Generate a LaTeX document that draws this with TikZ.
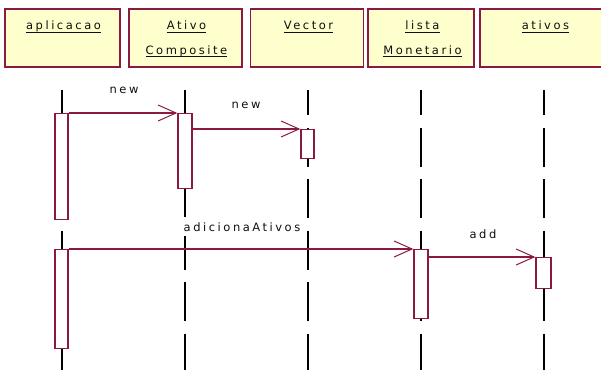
\documentclass[tikz,border=0pt]{standalone}
\usepackage{fontspec}
\setmainfont{DejaVu Sans}[LetterSpace=22]
\usetikzlibrary{arrows.meta}

\definecolor{frame}{RGB}{140,25,65}
\definecolor{headfill}{RGB}{255,255,206}
\definecolor{ink}{RGB}{15,15,15}

% underline drawn at a fixed distance below the baseline
\newcommand{\ulword}[1]{\setbox0\hbox{#1}\leavevmode\rlap{\rule[-3.4pt]{\wd0}{1.2pt}}\box0}

\tikzset{
  headbox/.style={draw=frame, line width=1.6pt, fill=headfill, inner sep=0pt, minimum height=58pt},
  headtext/.style={anchor=base, inner sep=0pt, text=ink, font=\fontsize{11.5}{13}\selectfont},
  lifeline/.style={black, line width=1.1pt, dash pattern=on 39pt off 12.5pt, dash phase=14pt},
  actbox/.style={draw=frame, line width=1.4pt, fill=white, minimum width=13pt, inner sep=0pt, anchor=north},
  msg/.style={draw=frame, line width=1.3pt, -{Straight Barb[length=18pt,width=16pt,line width=1pt]}},
  msglabel/.style={anchor=base, inner xsep=3pt, inner ysep=5pt, text=ink, font=\fontsize{11.5}{13}\selectfont},
}

\begin{document}
\begin{tikzpicture}[x=1pt, y=-1pt]
  \useasboundingbox (0,0) rectangle (601,369);
  \clip (0,0) rectangle (601,369);

  % object headers
  \node[headbox, minimum width=115pt] (hApp) at (62.5,38) {};
  \node[headbox, minimum width=113pt] (hAc)  at (185.5,38) {};
  \node[headbox, minimum width=113pt] (hVec) at (307,38) {};
  \node[headbox, minimum width=106pt] (hLm)  at (421,38) {};
  \node[headbox, minimum width=128pt] (hAt)  at (544,38) {};

  \node[headtext] (tApp)  at (63.5,30)  {\ulword{aplicacao}};
  \node[headtext] (tAc1)  at (186.5,30) {\ulword{Ativo}};
  \node[headtext] (tAc2)  at (186.5,54) {\ulword{Composite}};
  \node[headtext] (tVec)  at (308.5,30) {\ulword{Vector}};
  \node[headtext] (tLm1)  at (422.5,30) {\ulword{lista}};
  \node[headtext] (tLm2)  at (422.5,54) {\ulword{Monetario}};
  \node[headtext] (tAt)   at (545.5,30) {\ulword{ativos}};

  % lifelines
  \coordinate (topApp) at (62,90);  \coordinate (botApp) at (62,372);
  \coordinate (topAc)  at (185,90); \coordinate (botAc)  at (185,372);
  \coordinate (topVec) at (308,90); \coordinate (botVec) at (308,372);
  \coordinate (topLm)  at (421,90); \coordinate (botLm)  at (421,372);
  \coordinate (topAt)  at (544,90); \coordinate (botAt)  at (544,372);
  \draw[lifeline] (topApp) -- (botApp);
  \draw[lifeline] (topAc)  -- (botAc);
  \draw[lifeline] (topVec) -- (botVec);
  \draw[lifeline] (topLm)  -- (botLm);
  \draw[lifeline] (topAt)  -- (botAt);

  % activations
  \node[actbox, minimum height=106pt] (aApp1) at (61.5,113) {};
  \node[actbox, minimum height=99pt]  (aApp2) at (61.5,249) {};
  \node[actbox, minimum height=75pt, minimum width=14pt] (aAc) at (185,113) {};
  \node[actbox, minimum height=29pt]  (aVec)  at (307.5,129) {};
  \node[actbox, minimum height=69pt, minimum width=14pt] (aLm) at (421,249) {};
  \node[actbox, minimum height=31pt, minimum width=15pt] (aAt) at (543.5,257) {};

  % messages
  \draw[msg] (aApp1.north east) -- (aAc.north west);
  \draw[msg] (aAc.east |- aVec.north) -- (aVec.north west);
  \draw[msg] (aApp2.north east) -- (aLm.north west);
  \draw[msg] (aLm.east |- aAt.north) -- (aAt.north west);

  \node[msglabel] (lNew1) at (124,93)  {new};
  \node[msglabel] (lNew2) at (246,108) {new};
  \node[msglabel, fill=white] (lAdd) at (242,231) {adicionaAtivos};
  \node[msglabel] (lAd)   at (483,238) {add};
\end{tikzpicture}
\end{document}
